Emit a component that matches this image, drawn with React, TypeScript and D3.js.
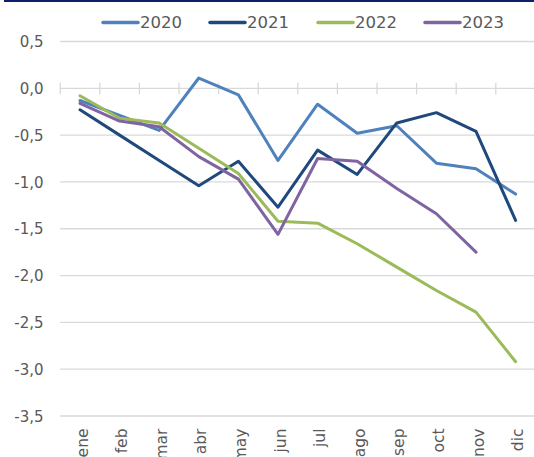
import { useEffect, useRef } from "react";
import * as d3 from "d3";

const months = ["ene", "feb", "mar", "abr", "may", "jun", "jul", "ago", "sep", "oct", "nov", "dic"];
const yTicks = [0.5, 0, -0.5, -1, -1.5, -2, -2.5, -3, -3.5];

const v2020 = [-0.13, -0.29, -0.45, 0.11, -0.07, -0.77, -0.17, -0.48, -0.4, -0.8, -0.86, -1.13];
const v2021 = [-0.23, -0.5, -0.77, -1.04, -0.78, -1.27, -0.66, -0.92, -0.37, -0.26, -0.46, -1.41];
const v2022 = [-0.08, -0.32, -0.37, -0.64, -0.91, -1.42, -1.44, -1.66, -1.91, -2.16, -2.39, -2.92];
const v2023 = [-0.16, -0.35, -0.41, -0.73, -0.97, -1.56, -0.75, -0.78, -1.07, -1.34, -1.75];

const seriesNames = ["2020", "2021", "2022", "2023"];
const seriesColors = ["#4f81bd", "#1f497d", "#9bbb59", "#8064a2"];

export default function App() {
  const ref = useRef(null);

  useEffect(() => {
    if (ref.current) {
      ref.current.innerHTML = "";
    }
    const width = 534,
      height = 457;
    const font = "'DejaVu Sans', Verdana, sans-serif";

    const svg = d3.select(ref.current)
      .append("svg")
      .attr("width", width)
      .attr("height", height)
      .style("position", "fixed")
      .style("left", 0)
      .style("top", 0)
      .style("background", "#fff");

    // frame line at the top
    svg.append("rect")
      .attr("x", 4).attr("y", 0)
      .attr("width", width - 4).attr("height", 2)
      .attr("fill", "#0f1f6e");

    const x = d3.scaleBand()
      .domain(months)
      .range([60.2, 535.4]);

    const y = d3.scaleLinear()
      .domain([-3.5, 0.5])
      .range([416, 41.5]);

    // gridlines
    svg.append("g")
      .selectAll("line")
      .data(yTicks)
      .join("line")
      .attr("x1", 60.2)
      .attr("x2", width)
      .attr("y1", d => y(d))
      .attr("y2", d => y(d))
      .attr("stroke", "#d9d9d9")
      .attr("stroke-width", 1.3);

    // y labels
    svg.append("g")
      .selectAll("text")
      .data(yTicks)
      .join("text")
      .attr("x", 43.5)
      .attr("y", d => y(d))
      .attr("dy", "0.38em")
      .attr("text-anchor", "end")
      .attr("font-family", font)
      .attr("font-size", 15)
      .attr("fill", "#595959")
      .text(d => d3.format(".1f")(d).replace("−", "-").replace(".", ","));

    // category ticks crossing the zero line
    const tickPos = months.map(m => x(m)).concat([x.range()[1]]);
    svg.append("g")
      .selectAll("line")
      .data(tickPos)
      .join("line")
      .attr("x1", d => d)
      .attr("x2", d => d)
      .attr("y1", y(0) - 5.5)
      .attr("y2", y(0) + 6)
      .attr("stroke", "#d9d9d9")
      .attr("stroke-width", 1.3);

    // month labels (cut by the bottom edge, as in the source)
    svg.append("g")
      .selectAll("text")
      .data(months)
      .join("text")
      .attr("transform", d => `translate(${x(d) + x.bandwidth() / 2 + 7.5},428.5) rotate(-90)`)
      .attr("text-anchor", "end")
      .attr("font-family", font)
      .attr("font-size", 15.5)
      .attr("fill", "#595959")
      .text(d => d);

    // lines
    const all = [v2020, v2021, v2022, v2023];
    const line = d3.line()
      .x((d, i) => x(months[i]) + x.bandwidth() / 2)
      .y(d => y(d));

    svg.append("g")
      .selectAll("path")
      .data(all)
      .join("path")
      .attr("d", d => line(d))
      .attr("fill", "none")
      .attr("stroke", (d, i) => seriesColors[i])
      .attr("stroke-width", 3)
      .attr("stroke-linejoin", "round")
      .attr("stroke-linecap", "round");

    // legend
    const legendX = [103, 210, 318, 425];
    const lg = svg.append("g")
      .selectAll("g")
      .data(seriesNames)
      .join("g")
      .attr("transform", (d, i) => `translate(${legendX[i]},22.5)`);
    lg.append("line")
      .attr("x1", 0).attr("x2", 35)
      .attr("stroke", (d, i) => seriesColors[i])
      .attr("stroke-width", 3.5)
      .attr("stroke-linecap", "round");
    lg.append("text")
      .attr("x", 37)
      .attr("dy", "0.36em")
      .attr("font-family", font)
      .attr("font-size", 16.5)
      .attr("fill", "#595959")
      .text(d => d);
  });

  return <div ref={ref}></div>;
}
